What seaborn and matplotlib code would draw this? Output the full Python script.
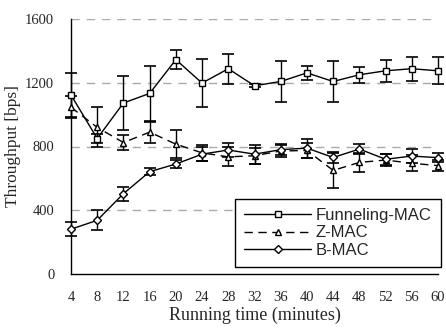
import matplotlib
matplotlib.use("Agg")
import matplotlib.pyplot as plt
import seaborn as sns
import pandas as pd

# Running time (minutes)
minutes = [4, 8, 12, 16, 20, 24, 28, 32, 36, 40, 44, 48, 52, 56, 60]

funneling = [1123, 850, 1073, 1133, 1345, 1198, 1288, 1181, 1208, 1262, 1208, 1250, 1275, 1288, 1275]
funneling_err = [137, 30, 170, 170, 60, 150, 95, 10, 130, 45, 130, 50, 70, 75, 85]

zmac = [1046, 920, 825, 890, 815, 760, 735, 742, 772, 775, 650, 700, 715, 695, 680]
zmac_err = [70, 125, 45, 65, 90, 50, 60, 50, 40, 45, 110, 60, 40, 50, 35]

bmac = [281, 337, 504, 642, 690, 752, 778, 752, 780, 790, 731, 784, 720, 740, 730]
bmac_err = [45, 63, 45, 20, 28, 45, 45, 60, 35, 60, 35, 30, 35, 45, 30]

y_ticks = [0, 400, 800, 1200, 1600]

df = pd.DataFrame({"minutes": minutes, "Funneling-MAC": funneling,
                   "Z-MAC": zmac, "B-MAC": bmac})

sns.set_style("white")
plt.rcParams['font.family'] = ['Liberation Serif', 'DejaVu Serif']

fig = plt.figure(figsize=(4.46, 3.28), dpi=100)
ax = fig.add_axes([71 / 446, 1 - 274 / 328, 367 / 446, 255 / 328])

# grid lines
for yv in y_ticks[1:]:
    ax.axhline(yv, color='#aaaaaa', lw=1, ls=(0, (6, 5)), zorder=0)

series = [
    ("Funneling-MAC", funneling_err, 's', '-', 4.2),
    ("Z-MAC", zmac_err, '^', (0, (6, 4)), 5),
    ("B-MAC", bmac_err, 'D', '-', 3.6),
]

for name, err, mk, ls, ms in series:
    eb = ax.errorbar(df["minutes"], df[name], yerr=err, fmt='none', ecolor='black',
                     elinewidth=1, capsize=4, capthick=1.2, zorder=2)
    for art in eb.lines[1] + eb.lines[2]:
        art.set_clip_on(False)
    sns.lineplot(data=df, x="minutes", y=name, ax=ax, color='black', lw=1,
                 linestyle=ls, marker=mk, markersize=ms, markerfacecolor='white',
                 markeredgecolor='black', markeredgewidth=1, label=name, zorder=3,
                 clip_on=False)

ax.set_xlim(4, 60)
ax.set_ylim(0, 1600)
ax.set_xticks(minutes)
ax.set_yticks(y_ticks)
ax.tick_params(axis='x', direction='in', length=4, width=1, labelsize=10.5, pad=12)
ax.tick_params(axis='y', direction='out', length=4, width=1, labelsize=10.5, pad=8)
ax.spines[['right', 'top']].set_visible(False)
for s in ['left', 'bottom']:
    ax.spines[s].set_color('black')
    ax.spines[s].set_linewidth(1)

ax.set_xlabel("Running time (minutes)", fontsize=13, labelpad=2)
ax.set_ylabel("Throughput [bps]", fontsize=12.5, labelpad=3)

leg = ax.legend(loc='lower right', bbox_to_anchor=(1.008, 0.027), frameon=True,
                fancybox=False, edgecolor='black', framealpha=1,
                prop={'family': 'Liberation Sans', 'size': 12},
                handlelength=4.0, labelspacing=0.15, borderpad=0.55,
                handletextpad=0.3, borderaxespad=0)
leg.get_frame().set_linewidth(1)

plt.savefig("out.png", dpi=100)
